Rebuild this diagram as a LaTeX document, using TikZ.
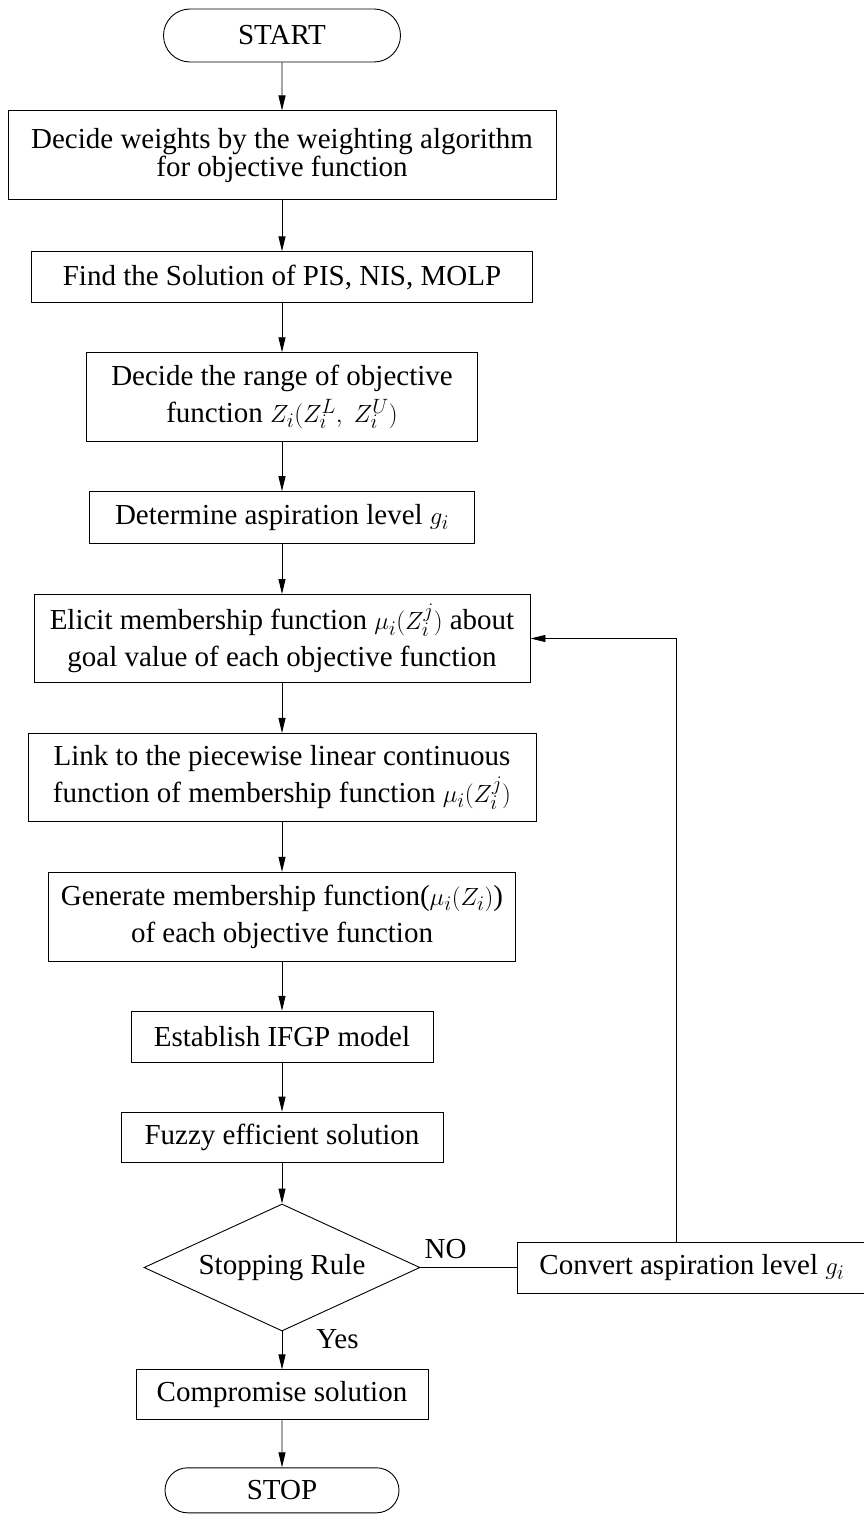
\documentclass[tikz,border=0pt]{standalone}
\usepackage{fontspec}
\setmainfont{Liberation Serif}
\usepackage{tikz}
\usetikzlibrary{positioning,arrows.meta,shapes.geometric,shapes.misc}
\tikzset{
  box/.style={draw, line width=0.9pt, align=center, inner sep=0pt, font=\fontsize{29}{37}\selectfont},
  term/.style={box, rounded rectangle},
  cond/.style={box, diamond, aspect=2.2},
  lbl/.style={inner sep=0pt, font=\fontsize{29}{37}\selectfont},
  edge/.style={-{Triangle[length=15pt,width=7pt]}, line width=0.9pt},
}
\begin{document}
\begin{tikzpicture}[x=1pt, y=-1pt]
  \useasboundingbox (0,0) rectangle (863,1517);
  \node[term, minimum width=237pt, minimum height=53pt] (st) at (282,35.5) {START};
  \node[box, minimum width=548pt, minimum height=89pt, font=\fontsize{29}{28.5}\selectfont, below=48pt of st] (wt) {Decide weights by the weighting algorithm\\for objective function};
  \node[box, minimum width=501pt, minimum height=51pt, below=51pt of wt] (pis) {Find the Solution of PIS, NIS, MOLP};
  \node[box, minimum width=391pt, minimum height=89pt, below=49pt of pis] (rng) {Decide the range of objective\\function $Z_i(Z_i^L,\ Z_i^U)$};
  \node[box, minimum width=385pt, minimum height=52pt, below=49pt of rng] (asp) {Determine aspiration level $g_i$};
  \node[box, minimum width=496pt, minimum height=88pt, below=50pt of asp] (eli) {Elicit membership function $\mu_i(Z_i^j)$ about\\goal value of each objective function};
  \node[box, minimum width=508pt, minimum height=88pt, below=50pt of eli] (lnk) {Link to the piecewise linear continuous\\function of membership function $\mu_i(Z_i^j)$};
  \node[box, minimum width=467pt, minimum height=89pt, below=50pt of lnk] (gen) {Generate membership function($\mu_i(Z_i)$)\\of each objective function};
  \node[box, minimum width=302pt, minimum height=51pt, below=49pt of gen] (ifgp) {Establish IFGP model};
  \node[box, minimum width=322pt, minimum height=50pt, below=49pt of ifgp] (fz) {Fuzzy efficient solution};
  \node[cond, minimum width=276pt, minimum height=127pt, below=41pt of fz] (rule) {Stopping Rule};
  \node[box, minimum width=348pt, minimum height=51pt, right=97pt of rule] (cvt) {Convert aspiration level $g_i$};
  \node[box, minimum width=292pt, minimum height=50pt, below=38pt of rule] (cmp) {Compromise solution};
  \node[term, minimum width=234pt, minimum height=45pt, below=47pt of cmp] (sp) {STOP};
  \coordinate (fb) at (676,639);
  \draw[edge] (st) -- (wt); \draw[edge] (wt) -- (pis); \draw[edge] (pis) -- (rng); \draw[edge] (rng) -- (asp);
  \draw[edge] (asp) -- (eli); \draw[edge] (eli) -- (lnk); \draw[edge] (lnk) -- (gen); \draw[edge] (gen) -- (ifgp);
  \draw[edge] (ifgp) -- (fz); \draw[edge] (fz) -- (rule);
  \draw[edge] (rule) -- node[lbl, right=34pt, pos=0.2] {Yes} (cmp);
  \draw[edge] (cmp) -- (sp);
  \draw[line width=0.9pt] (rule.east) -- node[lbl, above=8pt, pos=0.26] {NO} (cvt.west);
  \draw[edge] (cvt.north -| fb) |- (eli.east);
\end{tikzpicture}
\end{document}
